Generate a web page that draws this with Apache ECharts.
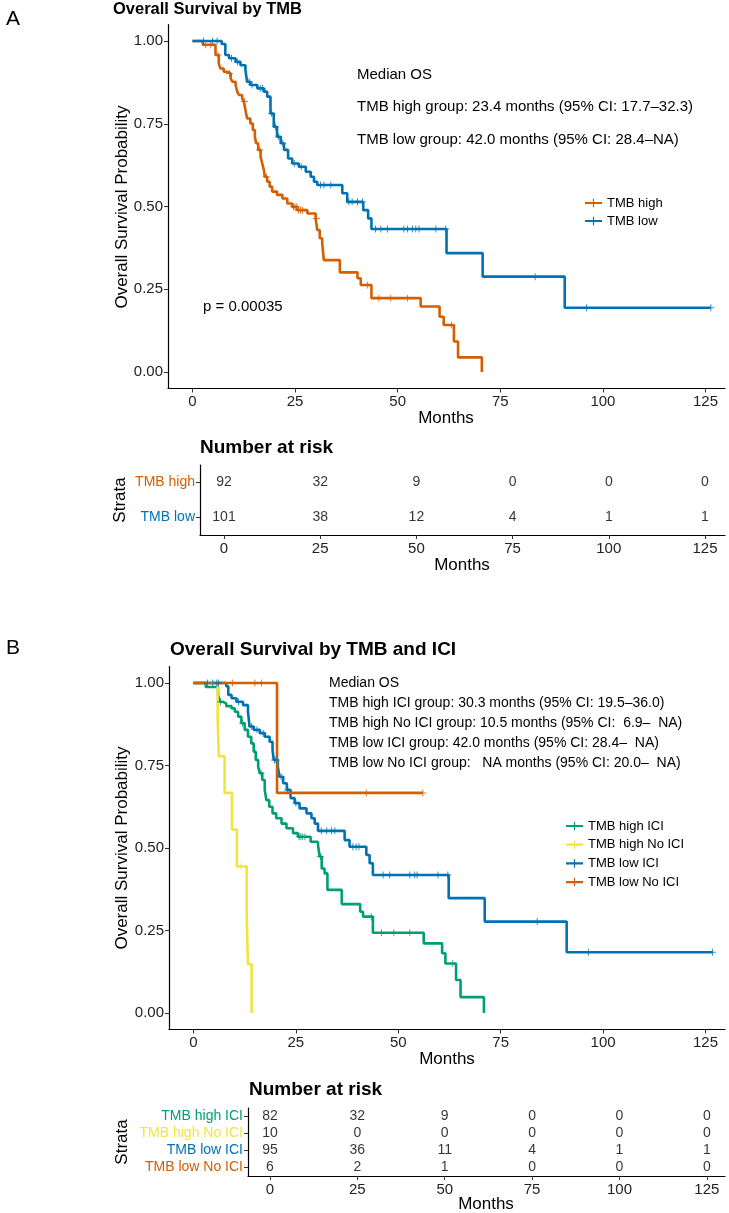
<!DOCTYPE html>
<html><head><meta charset="utf-8">
<script src="https://cdn.jsdelivr.net/npm/echarts@6/dist/echarts.min.js"></script>
<style>html,body{margin:0;padding:0;background:#fff}#c{width:729px;height:1213px}</style>
</head><body><div id="c"></div>
<script>
// ---------------- DATA ----------------
const monthTicks = [0, 25, 50, 75, 100, 125];
const survTicks = [0, 0.25, 0.5, 0.75, 1];

// Panel A : TMB high
const aHighT = [0, 2.5, 5.6, 6.4, 6.8, 7.6, 8.5, 9.3, 9.7, 10.5, 10.9, 11.3, 12.1, 12.5, 12.9, 13.3, 14.1, 14.7, 15.2, 15.5, 16.0, 16.6, 17.0, 17.4, 17.6, 18.2, 18.8, 19.4, 20.6, 21.9, 23.1, 24.3, 25.5, 28.0, 30.0, 30.4, 31.0, 31.6, 32.0, 35.9, 40.2, 41.0, 43.6, 55.6, 60.2, 61.2, 63.7, 64.7, 70.5];
const aHighS = [1, 0.989, 0.958, 0.932, 0.917, 0.907, 0.902, 0.887, 0.877, 0.867, 0.847, 0.837, 0.827, 0.817, 0.792, 0.766, 0.751, 0.731, 0.711, 0.691, 0.671, 0.650, 0.630, 0.610, 0.590, 0.575, 0.560, 0.545, 0.535, 0.524, 0.509, 0.499, 0.489, 0.479, 0.464, 0.429, 0.404, 0.389, 0.338, 0.301, 0.283, 0.263, 0.223, 0.198, 0.167, 0.142, 0.092, 0.044, 0];
const aHighEnd = 70.5;
const aHighCens = [3.2, 4.4, 6.2, 9.0, 12.7, 16.4, 18.0, 24.6, 25.0, 25.4, 25.8, 26.3, 26.8, 30.2, 42.6, 45.4, 48.3, 52.4, 63.1];

// Panel A : TMB low
const aLowT = [0, 7.1, 8.0, 8.9, 10.5, 11.7, 12.9, 13.3, 14.1, 15.8, 17.4, 18.2, 19.0, 19.8, 20.6, 21.5, 22.3, 23.3, 24.3, 25.9, 27.6, 28.8, 29.6, 30.4, 36.5, 37.7, 41.6, 42.8, 43.6, 61.9, 70.7, 90.7];
const aLowS = [1, 0.991, 0.958, 0.948, 0.937, 0.927, 0.912, 0.877, 0.867, 0.857, 0.847, 0.832, 0.781, 0.741, 0.711, 0.691, 0.671, 0.645, 0.630, 0.620, 0.605, 0.590, 0.575, 0.565, 0.540, 0.514, 0.489, 0.464, 0.432, 0.359, 0.288, 0.194];
const aLowEnd = 126.3;
const aLowCens = [2.7, 4.9, 6.0, 9.5, 11.0, 13.8, 14.5, 16.5, 17.0, 19.3, 20.2, 21.0, 22.0, 24.8, 26.5, 31.2, 32.0, 33.7, 38.1, 38.9, 40.2, 41.4, 44.6, 45.9, 47.5, 51.5, 52.4, 53.6, 54.4, 55.2, 59.3, 61.7, 83.5, 96.0, 126.3];

// Panel B : TMB high ICI
const bHiIciT = [0, 3.0, 6.0, 6.4, 7.2, 8.0, 9.3, 10.1, 10.9, 11.7, 12.5, 13.3, 14.1, 14.7, 15.2, 15.8, 16.2, 16.8, 17.4, 17.8, 18.5, 19.3, 20.2, 21.5, 22.7, 24.3, 25.5, 28.6, 30.4, 30.8, 31.3, 32.0, 32.7, 36.2, 40.7, 41.4, 43.8, 56.2, 60.7, 61.5, 64.1, 65.2, 70.9];
const bHiIciS = [1, 0.988, 0.964, 0.943, 0.938, 0.930, 0.923, 0.913, 0.898, 0.878, 0.858, 0.837, 0.817, 0.792, 0.767, 0.746, 0.727, 0.706, 0.676, 0.645, 0.625, 0.605, 0.590, 0.574, 0.560, 0.545, 0.534, 0.519, 0.509, 0.474, 0.438, 0.423, 0.373, 0.330, 0.307, 0.292, 0.243, 0.211, 0.181, 0.150, 0.100, 0.048, 0];
const bHiIciEnd = 70.9;
const bHiIciCens = [6.6, 12.0, 16.5, 25.8, 26.2, 26.6, 27.2, 31.0, 43.4, 45.9, 48.9, 52.8, 63.3];

// Panel B : TMB high No ICI
const bHiNoT = [0, 5.9, 6.2, 7.6, 9.4, 10.6, 13.0, 13.3, 14.2];
const bHiNoS = [1, 0.889, 0.778, 0.667, 0.556, 0.444, 0.296, 0.148, 0];
const bHiNoEnd = 14.2;
const bHiNoCens = [4.5, 11.6];

// Panel B : TMB low ICI
const bLoIciT = [0, 8.0, 8.5, 9.3, 10.5, 12.1, 13.3, 13.7, 14.7, 16.2, 17.4, 18.6, 19.3, 19.6, 20.6, 21.0, 21.9, 22.8, 23.7, 24.7, 25.9, 27.6, 28.8, 29.6, 30.4, 36.9, 38.1, 42.2, 43.0, 43.8, 62.3, 71.1, 91.1];
const bLoIciS = [1, 0.990, 0.964, 0.954, 0.943, 0.933, 0.913, 0.868, 0.858, 0.848, 0.837, 0.822, 0.797, 0.767, 0.746, 0.716, 0.696, 0.676, 0.651, 0.636, 0.620, 0.605, 0.590, 0.574, 0.552, 0.524, 0.504, 0.479, 0.454, 0.418, 0.348, 0.277, 0.184];
const bLoIciEnd = 126.7;
const bLoIciCens = [3.4, 4.7, 5.7, 6.1, 11.0, 14.2, 15.5, 17.0, 19.8, 20.2, 21.4, 23.0, 25.0, 31.2, 32.5, 33.7, 34.5, 38.9, 39.7, 40.4, 46.3, 47.9, 52.8, 54.0, 54.6, 59.7, 62.1, 83.9, 96.4, 126.7];

// Panel B : TMB low No ICI
const bLoNoT = [0, 20.4];
const bLoNoS = [1, 0.667];
const bLoNoEnd = 56.0;
const bLoNoCens = [9.5, 15.0, 16.6, 42.2, 56.0];

// Risk tables
const riskTimes = [0, 25, 50, 75, 100, 125];
const strataA = ['TMB high', 'TMB low'];
const riskAHigh = [92, 32, 9, 0, 0, 0];
const riskALow = [101, 38, 12, 4, 1, 1];
const strataB = ['TMB high ICI', 'TMB high No ICI', 'TMB low ICI', 'TMB low No ICI'];
const riskBHiIci = [82, 32, 9, 0, 0, 0];
const riskBHiNo = [10, 0, 0, 0, 0, 0];
const riskBLoIci = [95, 36, 11, 4, 1, 1];
const riskBLoNo = [6, 2, 1, 0, 0, 0];

// Text
const medianA = ['Median OS', 'TMB high group: 23.4 months (95% CI: 17.7\u201332.3)', 'TMB low group: 42.0 months (95% CI: 28.4\u2013NA)'];
const medianB = ['Median OS', 'TMB high ICI group: 30.3 months (95% CI: 19.5\u201336.0)', 'TMB high No ICI group: 10.5 months (95% CI:  6.9\u2013  NA)', 'TMB low ICI group: 42.0 months (95% CI: 28.4\u2013  NA)', 'TMB low No ICI group:   NA months (95% CI: 20.0\u2013  NA)'];
const pValueA = 'p = 0.00035';

// ---------------- STYLE ----------------
const C = { orange: '#D55E00', blue: '#0072B2', green: '#009E73', yellow: '#F0E442' };
const FONT = "'Liberation Sans', Arial, Helvetica, sans-serif";
const PLUS = 'path://M4.3,0L5.7,0L5.7,4.3L10,4.3L10,5.7L5.7,5.7L5.7,10L4.3,10L4.3,5.7L0,5.7L0,4.3L4.3,4.3Z';
const LEGICON = 'path://M0,3.7L20,3.7L20,6.3L0,6.3Z M9.3,0L10.7,0L10.7,10L9.3,10Z';

function stepData(T, S, end) {
  const d = T.map((t, i) => [t, S[i]]);
  const last = T[T.length - 1];
  if (end > last) d.push([end, S[S.length - 1]]);
  return d;
}
function survAt(T, S, t) {
  let s = S[0];
  for (let i = 0; i < T.length; i++) { if (T[i] <= t) s = S[i]; }
  return s;
}
function censData(T, S, cens) { return cens.map(c => [c, survAt(T, S, c)]); }

const series = [];
function addCurve(name, T, S, end, cens, color, gi) {
  series.push({
    name, type: 'line', step: 'end', xAxisIndex: gi, yAxisIndex: gi,
    data: stepData(T, S, end), showSymbol: false, symbolSize: 1,
    lineStyle: { color, width: 2.6 }, itemStyle: { color }, silent: true, z: 3
  });
  series.push({
    type: 'scatter', xAxisIndex: gi, yAxisIndex: gi, data: censData(T, S, cens),
    symbol: PLUS, symbolSize: 7, itemStyle: { color }, silent: true, z: 4
  });
}
addCurve('TMB high', aHighT, aHighS, aHighEnd, aHighCens, C.orange, 0);
addCurve('TMB low', aLowT, aLowS, aLowEnd, aLowCens, C.blue, 0);
addCurve('TMB high ICI', bHiIciT, bHiIciS, bHiIciEnd, bHiIciCens, C.green, 2);
addCurve('TMB high No ICI', bHiNoT, bHiNoS, bHiNoEnd, bHiNoCens, C.yellow, 2);
addCurve('TMB low ICI', bLoIciT, bLoIciS, bLoIciEnd, bLoIciCens, C.blue, 2);
addCurve('TMB low No ICI', bLoNoT, bLoNoS, bLoNoEnd, bLoNoCens, C.orange, 2);

function addRisk(rows, gi) {
  const data = [];
  rows.forEach((r, ri) => r.forEach((n, ti) => data.push([riskTimes[ti], ri, n])));
  series.push({
    type: 'scatter', xAxisIndex: gi, yAxisIndex: gi, data, symbolSize: 1,
    itemStyle: { color: 'rgba(0,0,0,0)' }, silent: true,
    label: { show: true, position: 'inside', formatter: p => String(p.value[2]), color: '#000', fontSize: 14, fontFamily: FONT }
  });
}
addRisk([riskAHigh, riskALow], 1);
addRisk([riskBHiIci, riskBHiNo, riskBLoIci, riskBLoNo], 3);

const axisLine = { show: true, onZero: false, lineStyle: { color: '#000', width: 1.2 } };
const axisTick = { show: true, length: 4, lineStyle: { color: '#333', width: 1 } };

function xAx(gi, min, max) {
  return {
    type: 'value', gridIndex: gi, min, max, splitLine: { show: false },
    axisLine, axisTick: Object.assign({ customValues: monthTicks }, axisTick),
    axisLabel: { customValues: monthTicks, color: '#222', fontSize: 15, fontFamily: FONT, margin: 6, showMinLabel: true, showMaxLabel: true }
  };
}
function yMain(gi) {
  return {
    type: 'value', gridIndex: gi, min: -0.05, max: 1.05, splitLine: { show: false },
    axisLine, axisTick: Object.assign({ customValues: survTicks }, axisTick),
    axisLabel: { customValues: survTicks, formatter: v => v.toFixed(2), color: '#222', fontSize: 15, fontFamily: FONT, margin: 5 }
  };
}
function yRisk(gi, cats, cols) {
  return {
    type: 'category', gridIndex: gi, data: cats, inverse: true, splitLine: { show: false },
    axisLine, axisTick: Object.assign({ alignWithLabel: true, interval: 0 }, axisTick),
    axisLabel: { interval: 0, color: (v, i) => cols[i], fontSize: 14, fontFamily: FONT, margin: 5 }
  };
}

function txt(x, y, text, o) {
  o = o || {};
  return {
    type: 'text', x, y, rotation: o.rot || 0, silent: true,
    style: {
      text, fill: o.color || '#000', align: o.align || 'left', verticalAlign: 'middle',
      font: (o.bold ? 'bold ' : '') + (o.size || 15) + 'px ' + FONT
    }
  };
}

const graphics = [
  txt(6, 19, 'A', { size: 21 }),
  txt(113, 9, 'Overall Survival by TMB', { size: 16.5, bold: true }),
  txt(122, 207, 'Overall Survival Probability', { size: 17, align: 'center', rot: Math.PI / 2 }),
  txt(446, 418, 'Months', { size: 17, align: 'center' }),
  txt(203, 307, pValueA, { size: 15 }),
  txt(200, 448, 'Number at risk', { size: 19, bold: true }),
  txt(120, 500, 'Strata', { size: 17, align: 'center', rot: Math.PI / 2 }),
  txt(462, 565, 'Months', { size: 17, align: 'center' }),
  txt(6, 648, 'B', { size: 21 }),
  txt(170, 650, 'Overall Survival by TMB and ICI', { size: 19, bold: true }),
  txt(122, 848, 'Overall Survival Probability', { size: 17, align: 'center', rot: Math.PI / 2 }),
  txt(447, 1059, 'Months', { size: 17, align: 'center' }),
  txt(249, 1090, 'Number at risk', { size: 19, bold: true }),
  txt(122, 1142, 'Strata', { size: 17, align: 'center', rot: Math.PI / 2 }),
  txt(486, 1204, 'Months', { size: 17, align: 'center' })
];
const medAy = [75, 107, 140];
medianA.forEach((s, i) => graphics.push(txt(357, medAy[i], s, { size: 15 })));
const medBy = [683, 703, 723, 743, 763];
medianB.forEach((s, i) => graphics.push(txt(329, medBy[i], s, { size: 14 })));

const option = {
  animation: false,
  backgroundColor: '#fff',
  grid: [
    { left: 168, top: 24.5, width: 557, height: 364 },
    { left: 200, top: 465, width: 525, height: 70 },
    { left: 169, top: 666.5, width: 556, height: 363 },
    { left: 248, top: 1108, width: 477, height: 68 }
  ],
  xAxis: [xAx(0, -5.97, 129.75), xAx(1, -6.24, 130.2), xAx(2, -5.97, 129.75), xAx(3, -6.29, 130.2)],
  yAxis: [yMain(0), yRisk(1, strataA, [C.orange, C.blue]), yMain(2), yRisk(3, strataB, [C.green, C.yellow, C.blue, C.orange])],
  legend: [
    { data: ['TMB high', 'TMB low'], orient: 'vertical', left: 580, top: 191, itemWidth: 17, itemHeight: 10, itemGap: 4, icon: LEGICON,
      textStyle: { fontSize: 13, lineHeight: 14, fontFamily: FONT, color: '#000' }, selectedMode: false },
    { data: ['TMB high ICI', 'TMB high No ICI', 'TMB low ICI', 'TMB low No ICI'], orient: 'vertical', left: 561, top: 814, itemWidth: 17, itemHeight: 10, itemGap: 4.7, icon: LEGICON,
      textStyle: { fontSize: 13, lineHeight: 14, fontFamily: FONT, color: '#000' }, selectedMode: false }
  ],
  series,
  graphic: graphics
};
const chart = echarts.init(document.getElementById('c'), null, { renderer: 'canvas' });
chart.setOption(option);
</script></body></html>
